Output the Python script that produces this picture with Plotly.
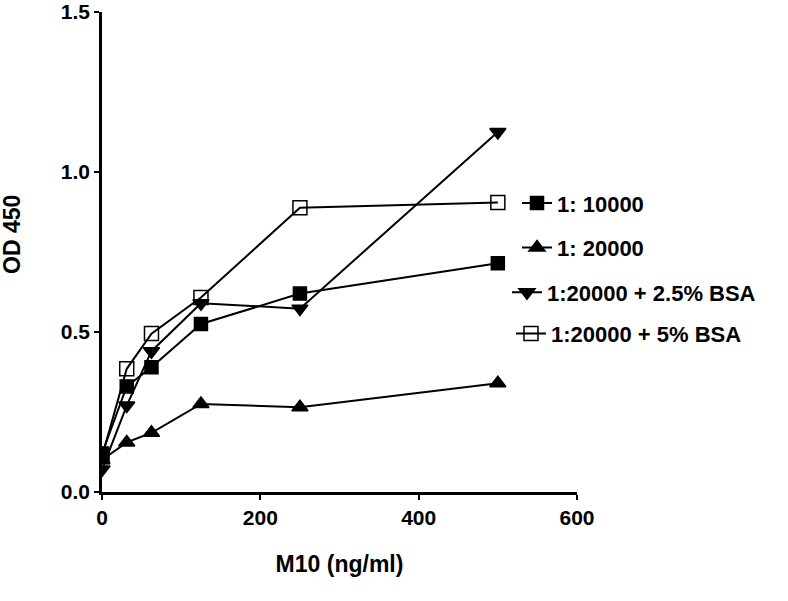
import plotly.graph_objects as go

conc = [0, 31.25, 62.5, 125, 250, 500]
s_10000 = [0.12, 0.33, 0.39, 0.525, 0.62, 0.715]
s_20000 = [0.10, 0.155, 0.185, 0.275, 0.265, 0.34]
s_bsa25 = [0.07, 0.27, 0.44, 0.59, 0.573, 1.125]
s_bsa5 = [0.11, 0.385, 0.495, 0.608, 0.888, 0.905]

names = ["1: 10000", "1: 20000", "1:20000 + 2.5% BSA", "1:20000 + 5% BSA"]
series = [s_10000, s_20000, s_bsa25, s_bsa5]
symbols = ["square", "triangle-up", "triangle-down", "square-open"]
sizes = [13, 14, 14, 14]

# legend placement (paper fractions) for each entry
leg_x = [0.8737, 0.8737, 0.8526, 0.861]
leg_y = [0.6017, 0.509, 0.4156, 0.3299]
leg_ids = ["legend", "legend2", "legend3", "legend4"]

fam = "Liberation Sans, Arial, sans-serif"
tickfont = dict(family=fam, size=21, color="black", weight="bold")
titlefont = dict(family=fam, size=23, color="black", weight="bold")
legfont = dict(family=fam, size=22, color="black", weight="bold")

fig = go.Figure()
for n, s, sym, sz, lid in zip(names, series, symbols, sizes, leg_ids):
    fig.add_trace(go.Scatter(
        x=conc, y=s, name=n, mode="lines+markers",
        line=dict(color="black", width=2),
        marker=dict(symbol=sym, size=sz, color="black",
                    line=dict(color="black", width=1.5)),
        legend=lid,
    ))

legends = {}
for lid, lx, ly in zip(leg_ids, leg_x, leg_y):
    legends[lid] = dict(x=lx, y=ly, xanchor="left", yanchor="middle",
                        font=legfont, itemwidth=30,
                        bgcolor="rgba(0,0,0,0)")

fig.update_layout(
    width=788, height=601,
    margin=dict(l=102, r=211, t=12, b=109, autoexpand=False),
    paper_bgcolor="white", plot_bgcolor="white",
    font=tickfont,
    showlegend=True,
    **legends,
    xaxis=dict(range=[0, 600], tickvals=[0, 200, 400, 600],
               showline=True, linecolor="black", linewidth=2.5,
               ticks="outside", ticklen=5, tickwidth=2, tickcolor="black",
               showgrid=False, zeroline=False, automargin=False,
               ticklabeloverflow="allow",
               title=dict(text="M10 (ng/ml)", standoff=28, font=titlefont),
               tickfont=tickfont),
    yaxis=dict(range=[0, 1.5], tickvals=[0, 0.5, 1.0, 1.5],
               ticktext=["0.0", "0.5", "1.0", "1.5"],
               showline=True, linecolor="black", linewidth=2.5,
               ticks="outside", ticklen=5, tickwidth=2, tickcolor="black",
               showgrid=False, zeroline=False, automargin=False,
               ticklabeloverflow="allow",
               tickfont=tickfont),
    annotations=[dict(text="OD 450", textangle=-90, showarrow=False,
                      xref="paper", yref="paper", x=-0.188, y=0.537,
                      xanchor="center", yanchor="middle", font=titlefont)],
)

fig.write_html("out.html", config={"displayModeBar": False},
               post_script="document.body.style.margin='0px';")
